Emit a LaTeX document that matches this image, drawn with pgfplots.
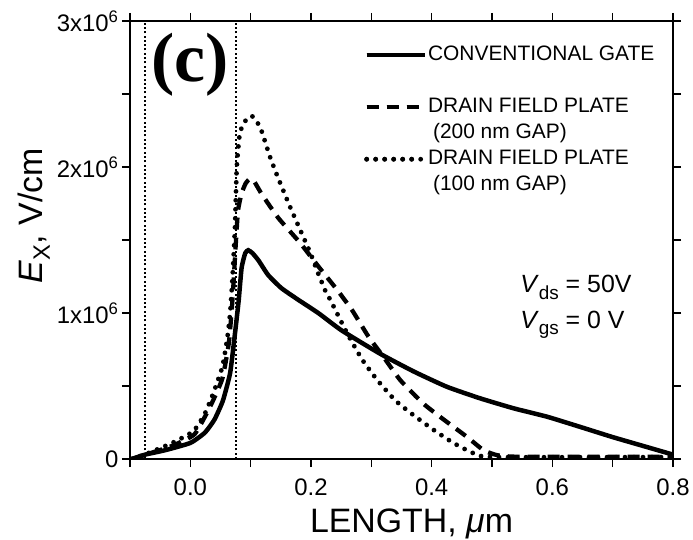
\documentclass[border=0pt]{standalone}
\usepackage{pgfplots}
\pgfplotsset{compat=1.18}
\usepackage{fontspec}
\setmainfont{Liberation Sans}
\newfontfamily\serifc{Liberation Serif}

\begin{document}
\begin{tikzpicture}
\begin{axis}[
  scale only axis, width=543bp, height=438bp,
  xmin=-0.1, xmax=0.8, ymin=0, ymax=3,
  xtick={0,0.2,0.4,0.6,0.8}, xticklabels={0.0,0.2,0.4,0.6,0.8},
  minor xtick={-0.1,0.1,0.3,0.5,0.7},
  ytick={0,1,2,3},
  yticklabels={0,1x10\textsuperscript{6},2x10\textsuperscript{6},3x10\textsuperscript{6}},
  minor ytick={0.5,1.5,2.5},
  tick align=outside, xtick pos=both, ytick pos=both,
  xticklabel pos=lower, yticklabel pos=left,
  major tick length=8bp, minor tick length=8bp,
  axis line style={line width=1.4bp},
  every tick/.style={black, line width=1.2bp},
  tick label style={font=\fontsize{24}{24}\selectfont},
  every x tick label/.append style={anchor=base, yshift=-28bp},
  xlabel={LENGTH, \textit{μ}m}, ylabel={\textit{E}\textsubscript{X}, V/cm},
  label style={font=\fontsize{34}{34}\selectfont},
  xlabel style={at={(axis description cs:0.5,0)}, anchor=base, yshift=-73bp, xshift=10bp},
  ylabel style={at={(axis description cs:-0.162,0.555)}, anchor=base},
  legend style={draw=none, fill=none, at={(axis cs:0.283,2.856)}, anchor=north west,
    font=\fontsize{21}{21}\selectfont, row sep=4bp,
    nodes={text height=15bp, text depth=5bp, inner sep=1bp}},
  legend cell align=left,
  legend image code/.code={\draw[#1] (0bp,0bp) -- (52bp,0bp); \path (0bp,0bp) -- (58bp,0bp);},
]
% guide lines
\addplot[forget plot, line width=2bp, dash pattern=on 2bp off 2.3bp] coordinates {(-0.075,0) (-0.075,3)};
\addplot[forget plot, line width=2bp, dash pattern=on 2bp off 2.3bp] coordinates {(0.075,0) (0.075,3)};

\addplot[black, line width=4.5bp, smooth, tension=0.3] coordinates {
(-0.097,0) (-0.075,0.03) (-0.042,0.06) (0.0,0.11) (0.024,0.18) (0.04,0.27) (0.054,0.40)
(0.066,0.59) (0.074,0.86) (0.080,1.08) (0.085,1.31) (0.091,1.41) (0.096,1.43) (0.103,1.41)
(0.113,1.36) (0.129,1.26) (0.151,1.17) (0.179,1.09) (0.212,1.00) (0.251,0.88) (0.315,0.72)
(0.37,0.60) (0.425,0.495) (0.48,0.416) (0.536,0.347) (0.591,0.29) (0.646,0.22) (0.70,0.15)
(0.75,0.09) (0.80,0.03)};
\addlegendentry{CONVENTIONAL GATE}
\addlegendimage{empty legend}\addlegendentry{}

\addplot[black, line width=4.3bp, dash pattern=on 12bp off 8bp, smooth, tension=0.3] coordinates {
(-0.097,0) (-0.07,0.035) (-0.03,0.09) (0.007,0.17) (0.033,0.36) (0.053,0.55) (0.064,0.80)
(0.070,1.10) (0.075,1.45) (0.079,1.70) (0.085,1.82) (0.092,1.89) (0.099,1.92) (0.106,1.90)
(0.119,1.81) (0.146,1.65) (0.182,1.48) (0.212,1.32) (0.243,1.16) (0.268,1.02) (0.295,0.84)
(0.32,0.70) (0.348,0.54) (0.386,0.38) (0.42,0.27) (0.459,0.15) (0.486,0.06) (0.51,0.025)
(0.55,0.015) (0.8,0.015)};
\addlegendentry{DRAIN FIELD PLATE}
\addlegendimage{empty legend}\addlegendentry{\hspace{5bp}(200 nm GAP)}

\addplot[black, line width=4.8bp, dash pattern=on 0pt off 9bp, line cap=round, smooth, tension=0.3] coordinates {
(-0.097,0) (-0.07,0.04) (-0.03,0.11) (0.005,0.19) (0.024,0.31) (0.038,0.45) (0.053,0.63)
(0.061,0.82) (0.066,1.0) (0.070,1.25) (0.074,1.59) (0.077,2.0) (0.082,2.23) (0.09,2.31)
(0.102,2.35) (0.116,2.27) (0.132,2.07) (0.145,1.93) (0.165,1.73) (0.182,1.57) (0.199,1.41)
(0.212,1.27) (0.225,1.14) (0.232,1.09) (0.26,0.86) (0.285,0.68) (0.31,0.54) (0.34,0.40)
(0.37,0.30) (0.403,0.20) (0.436,0.11) (0.469,0.04) (0.502,0.013) (0.8,0.013)};
\addlegendentry{DRAIN FIELD PLATE}
\addlegendimage{empty legend}\addlegendentry{\hspace{5bp}(100 nm GAP)}

\node[font=\serifc\bfseries\fontsize{70}{70}\selectfont] at (axis cs:0.0,2.70) {(c)};
\node[anchor=base west, font=\fontsize{25}{25}\selectfont] at (axis cs:0.541,1.137) {\textit{V}\raisebox{-0.25em}{\fontsize{19}{19}\selectfont ds} = 50V};
\node[anchor=base west, font=\fontsize{25}{25}\selectfont] at (axis cs:0.541,0.897) {\textit{V}\raisebox{-0.25em}{\fontsize{19}{19}\selectfont gs} = 0 V};
\end{axis}
\pgfresetboundingbox
\path[use as bounding box] (current axis.south west) ++(-130bp,-81bp) rectangle ++(693bp,540bp);
\end{tikzpicture}
\end{document}
